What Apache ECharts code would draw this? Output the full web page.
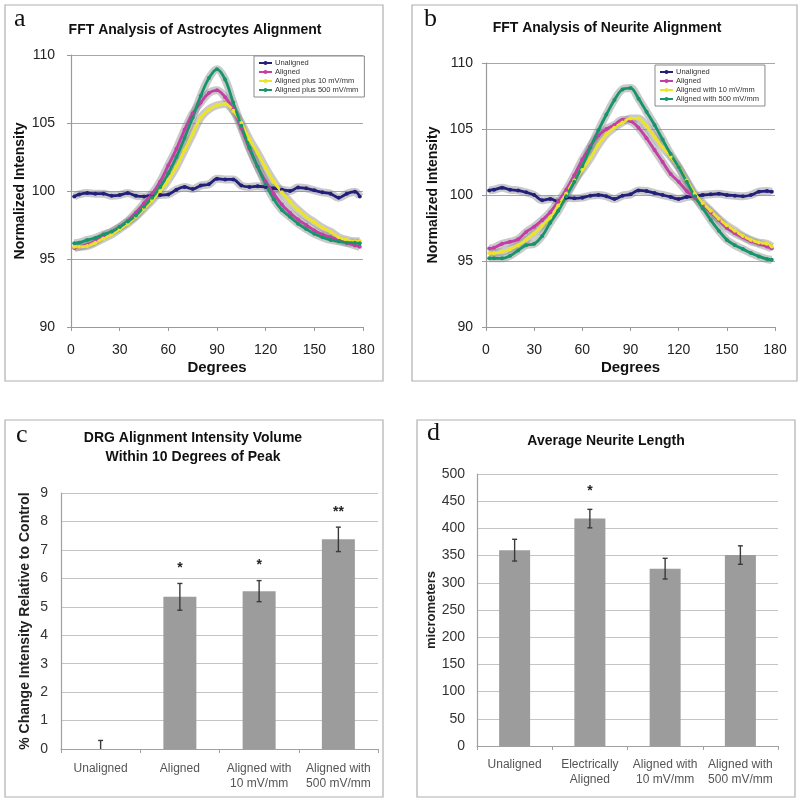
<!DOCTYPE html>
<html><head><meta charset="utf-8">
<script src="https://cdn.jsdelivr.net/npm/echarts/dist/echarts.min.js"></script>
<style>html,body{margin:0;padding:0;background:#fff}#c{width:800px;height:801px}</style>
</head><body><div id="c"></div>
<script>
// ---------- data ----------
const degrees = [2,5,10,15,20,25,30,35,40,45,50,55,60,65,70,75,80,85,90,95,100,105,110,115,120,125,130,135,140,145,150,155,160,165,170,175,178];

// Panel a: astrocytes
const astroUnaligned = [99.6,99.75,99.85,99.8,99.8,99.65,99.7,99.85,99.65,99.6,99.7,99.7,99.75,100.1,100.3,100.15,100.4,100.5,100.9,100.85,100.85,100.4,100.3,100.35,100.3,100.2,100.1,100.0,100.25,100.2,100.05,99.9,99.8,99.5,99.8,99.95,99.6];
const astroAligned   = [95.8,95.9,96.05,96.3,96.7,97.0,97.35,97.8,98.4,99.1,99.8,100.7,101.9,103.1,104.5,105.7,106.5,107.2,107.4,106.9,106.0,104.6,103.1,101.8,100.7,99.8,99.0,98.4,97.9,97.5,97.1,96.8,96.6,96.4,96.2,96.0,95.9];
const astro10        = [95.9,95.9,95.95,96.2,96.5,96.8,97.2,97.6,98.1,98.7,99.3,100.0,100.8,101.8,103.0,104.2,105.4,106.0,106.3,106.4,105.9,105.0,103.8,102.8,101.7,100.7,99.9,99.2,98.6,98.1,97.7,97.3,97.0,96.6,96.4,96.3,96.3];
const astro500       = [96.15,96.2,96.4,96.55,96.8,97.0,97.35,97.75,98.2,98.85,99.5,100.3,101.3,102.5,103.9,105.4,107.0,108.3,108.95,108.2,106.5,104.8,103.2,101.8,100.5,99.4,98.6,98.1,97.6,97.2,96.85,96.6,96.4,96.3,96.2,96.2,96.15];

// Panel b: neurites
const neuriteUnaligned = [100.35,100.4,100.55,100.4,100.35,100.2,100.0,99.6,99.7,99.5,99.8,99.75,99.8,99.95,100.0,99.9,99.7,99.95,100.05,100.35,100.3,100.15,100.0,99.85,99.7,99.85,99.9,100.0,100.05,100.1,100.0,99.95,99.9,100.0,100.25,100.3,100.25];
const neuriteAligned   = [95.95,96.0,96.3,96.45,96.65,97.2,97.6,98.1,98.7,99.5,100.4,101.5,102.7,103.7,104.5,105.0,105.3,105.7,105.6,105.1,104.3,103.4,102.5,101.6,101.0,100.3,99.8,99.2,98.7,98.1,97.5,97.1,96.8,96.5,96.3,96.1,95.95];
const neurite10        = [95.6,95.6,95.7,95.9,96.2,96.6,97.1,97.7,98.3,99.2,100.1,101.1,101.9,102.8,103.8,104.6,105.1,105.5,105.8,105.8,105.2,104.4,103.6,102.9,102.1,101.1,100.1,99.4,98.8,98.2,97.7,97.3,96.9,96.6,96.4,96.3,96.1];
const neurite500       = [95.2,95.2,95.2,95.4,95.8,96.2,96.3,96.9,97.9,98.8,99.9,101.0,102.2,103.6,104.9,106.1,107.2,108.0,108.1,107.3,106.3,105.3,104.2,103.1,102.1,101.0,99.9,99.0,98.1,97.3,96.6,96.2,95.9,95.6,95.35,95.15,95.1];

// Panel c: DRG alignment intensity volume
const drgCategories = ['Unaligned','Aligned','Aligned with\n10 mV/mm','Aligned with\n500 mV/mm'];
const drgValues = [0, 5.35, 5.55, 7.37];
const drgErrors = [0.3, 0.47, 0.37, 0.43];
const drgSig = ['', '*', '*', '**'];

// Panel d: average neurite length
const lenCategories = ['Unaligned','Electrically\nAligned','Aligned with\n10 mV/mm','Aligned with\n500 mV/mm'];
const lenValues = [360, 418, 326, 351];
const lenErrors = [20, 17, 19, 17];
const lenSig = ['', '*', '', ''];

const legendA = ['Unaligned','Aligned','Aligned plus 10 mV/mm','Aligned plus 500 mV/mm'];
const legendB = ['Unaligned','Aligned','Aligned with 10 mV/mm','Aligned with 500 mV/mm'];
const lineColors = ['#23207a','#c43ea6','#ece428','#17956a'];

// ---------- chart ----------
const FONT = '"Liberation Sans", Arial, sans-serif';
const chart = echarts.init(document.getElementById('c'), null, {renderer:'canvas'});

function lineSeries(name, arr, color, gi) {
  const data = degrees.map((d, i) => [d, arr[i]]);
  return [
    {type:'line', name:'_band', xAxisIndex:gi, yAxisIndex:gi, data, smooth:0.35, showSymbol:false, silent:true,
     lineStyle:{width:8, color:'rgba(135,135,140,0.45)'}, z:1, animation:false},
    {type:'line', name, xAxisIndex:gi, yAxisIndex:gi, data, smooth:0.35, symbol:'circle', symbolSize:4,
     itemStyle:{color}, lineStyle:{width:2.8, color}, z:3, animation:false}
  ];
}

function errRender(sig, off) {
  return function (params, api) {
    const i = api.value(0), v = api.value(1), e = api.value(2);
    const top = api.coord([i, v + e]);
    const bot = api.coord([i, Math.max(0, v - e)]);
    const c = 2.5;
    const st = {stroke:'#3a3a3a', lineWidth:1.4};
    const children = [
      {type:'line', shape:{x1:top[0], y1:top[1], x2:bot[0], y2:bot[1]}, style:st},
      {type:'line', shape:{x1:top[0]-c, y1:top[1], x2:top[0]+c, y2:top[1]}, style:st}
    ];
    if (v - e > 0) children.push({type:'line', shape:{x1:bot[0]-c, y1:bot[1], x2:bot[0]+c, y2:bot[1]}, style:st});
    const s = sig[params.dataIndex];
    if (s) children.push({type:'text', style:{text:s, x:top[0], y:top[1]-off, align:'center', verticalAlign:'middle',
      fontSize:14, fontWeight:'bold', fontFamily:FONT, fill:'#222'}});
    return {type:'group', children};
  };
}

const lineX = (gi) => ({gridIndex:gi, type:'value', min:0, max:180, interval:30,
  name:'Degrees', nameLocation:'middle', nameGap:33,
  nameTextStyle:{fontFamily:FONT, fontSize:15, fontWeight:'bold', color:'#111'},
  axisLine:{show:true, lineStyle:{color:'#9a9a9a', width:1.2}},
  axisTick:{show:true, length:4, lineStyle:{color:'#9a9a9a'}},
  axisLabel:{fontFamily:FONT, fontSize:14, color:'#222', margin:16},
  splitLine:{show:false}});
const lineY = (gi, gap) => ({gridIndex:gi, type:'value', min:90, max:110, interval:5,
  name:'Normalized Intensity', nameLocation:'middle', nameGap:gap, nameRotate:90,
  nameTextStyle:{fontFamily:FONT, fontSize:14, fontWeight:'bold', color:'#111'},
  axisLine:{show:true, lineStyle:{color:'#9a9a9a', width:1.2}},
  axisTick:{show:true, length:4, lineStyle:{color:'#9a9a9a'}},
  axisLabel:{fontFamily:FONT, fontSize:14, color:'#222', margin:gi===0?16:13},
  splitLine:{show:true, lineStyle:{color:'#a8a8a8', width:1.2}}});

const barX = (gi, cats, margin) => ({gridIndex:gi, type:'category', data:cats,
  axisLine:{show:true, lineStyle:{color:'#a0a0a0', width:1.2}},
  axisTick:{show:true, length:4, lineStyle:{color:'#a0a0a0'}},
  axisLabel:{fontFamily:FONT, fontSize:12, lineHeight:15, color:'#555', margin, interval:0}});
const barY = (gi, max, interval, name, nameSize, gap, margin) => ({gridIndex:gi, type:'value', min:0, max, interval,
  name, nameLocation:'middle', nameGap:gap, nameRotate:90,
  nameTextStyle:{fontFamily:FONT, fontSize:nameSize, fontWeight:'bold', color:'#222'},
  axisLine:{show:true, lineStyle:{color:'#a0a0a0', width:1.2}},
  axisTick:{show:false},
  axisLabel:{fontFamily:FONT, fontSize:14, color:'#333', margin},
  splitLine:{show:true, lineStyle:{color:'#c4c4c4', width:1.2}}});

const titleStyle = {fontFamily:FONT, fontSize:14, fontWeight:'bold', color:'#111', lineHeight:19};
const letterStyle = {fontFamily:'"Liberation Serif", "DejaVu Serif", serif', fontSize:26, fontWeight:'normal', color:'#111'};

const legendCommon = {orient:'vertical', itemGap:1, itemWidth:13, itemHeight:5, padding:[3,6,3,4],
  borderColor:'#8a8a8a', borderWidth:1, backgroundColor:'#fff',
  textStyle:{fontFamily:FONT, fontSize:7.5, color:'#333', padding:[0,0,0,-2]}};

const panels = [[5,5,378,376],[412,5,385,376],[5,420,378,377],[417,420,378,377]];

const option = {
  backgroundColor:'#fff',
  animation:false,
  graphic: panels.map(p => ({type:'rect', shape:{x:p[0], y:p[1], width:p[2], height:p[3]}, silent:true,
    style:{fill:'none', stroke:'#b0b0b0', lineWidth:1.2}, z:-10})),
  title: [
    {text:'FFT Analysis of Astrocytes Alignment', left:195, top:21, textAlign:'center', padding:0, textStyle:titleStyle},
    {text:'FFT Analysis of Neurite Alignment', left:607, top:19, textAlign:'center', padding:0, textStyle:titleStyle},
    {text:'DRG Alignment Intensity Volume\nWithin 10 Degrees of Peak', left:193, top:429, textAlign:'center', padding:0, textStyle:titleStyle},
    {text:'Average Neurite Length', left:606, top:432, textAlign:'center', padding:0, textStyle:titleStyle},
    {text:'a', left:14, top:6, padding:0, textStyle:letterStyle},
    {text:'b', left:424, top:6, padding:0, textStyle:letterStyle},
    {text:'c', left:16, top:422, padding:0, textStyle:letterStyle},
    {text:'d', left:427, top:420, padding:0, textStyle:letterStyle}
  ],
  legend: [
    Object.assign({}, legendCommon, {data:legendA, left:254, top:56}),
    Object.assign({}, legendCommon, {data:legendB, left:655, top:65})
  ],
  grid: [
    {left:71, top:55, width:292, height:272, outerBoundsMode:'none'},
    {left:486, top:63, width:289, height:264, outerBoundsMode:'none'},
    {left:61, top:493, width:317, height:256, outerBoundsMode:'none'},
    {left:477, top:474, width:301, height:272, outerBoundsMode:'none'}
  ],
  xAxis: [lineX(0), lineX(1), barX(2, drgCategories, 12), barX(3, lenCategories, 11)],
  yAxis: [lineY(0, 44), lineY(1, 46),
          barY(2, 9, 1, '% Change Intensity Relative to Control', 14, 29, 13),
          barY(3, 500, 50, 'micrometers', 13, 38, 12)],
  series: [
    ...lineSeries(legendA[0], astroUnaligned, lineColors[0], 0),
    ...lineSeries(legendA[1], astroAligned, lineColors[1], 0),
    ...lineSeries(legendA[2], astro10, lineColors[2], 0),
    ...lineSeries(legendA[3], astro500, lineColors[3], 0),
    ...lineSeries(legendB[0], neuriteUnaligned, lineColors[0], 1),
    ...lineSeries(legendB[1], neuriteAligned, lineColors[1], 1),
    ...lineSeries(legendB[2], neurite10, lineColors[2], 1),
    ...lineSeries(legendB[3], neurite500, lineColors[3], 1),
    {type:'bar', name:'drg', xAxisIndex:2, yAxisIndex:2, data:drgValues, barWidth:33, itemStyle:{color:'#9c9c9c'}, z:2},
    {type:'custom', name:'drgErr', xAxisIndex:2, yAxisIndex:2, data:drgValues.map((v,i)=>[i, v, drgErrors[i]]),
     renderItem:errRender(drgSig, 15), encode:{x:0, y:1}, z:5},
    {type:'bar', name:'len', xAxisIndex:3, yAxisIndex:3, data:lenValues, barWidth:31, itemStyle:{color:'#9c9c9c'}, z:2},
    {type:'custom', name:'lenErr', xAxisIndex:3, yAxisIndex:3, data:lenValues.map((v,i)=>[i, v, lenErrors[i]]),
     renderItem:errRender(lenSig, 18), encode:{x:0, y:1}, z:5}
  ]
};
chart.setOption(option);
</script>
</body></html>
